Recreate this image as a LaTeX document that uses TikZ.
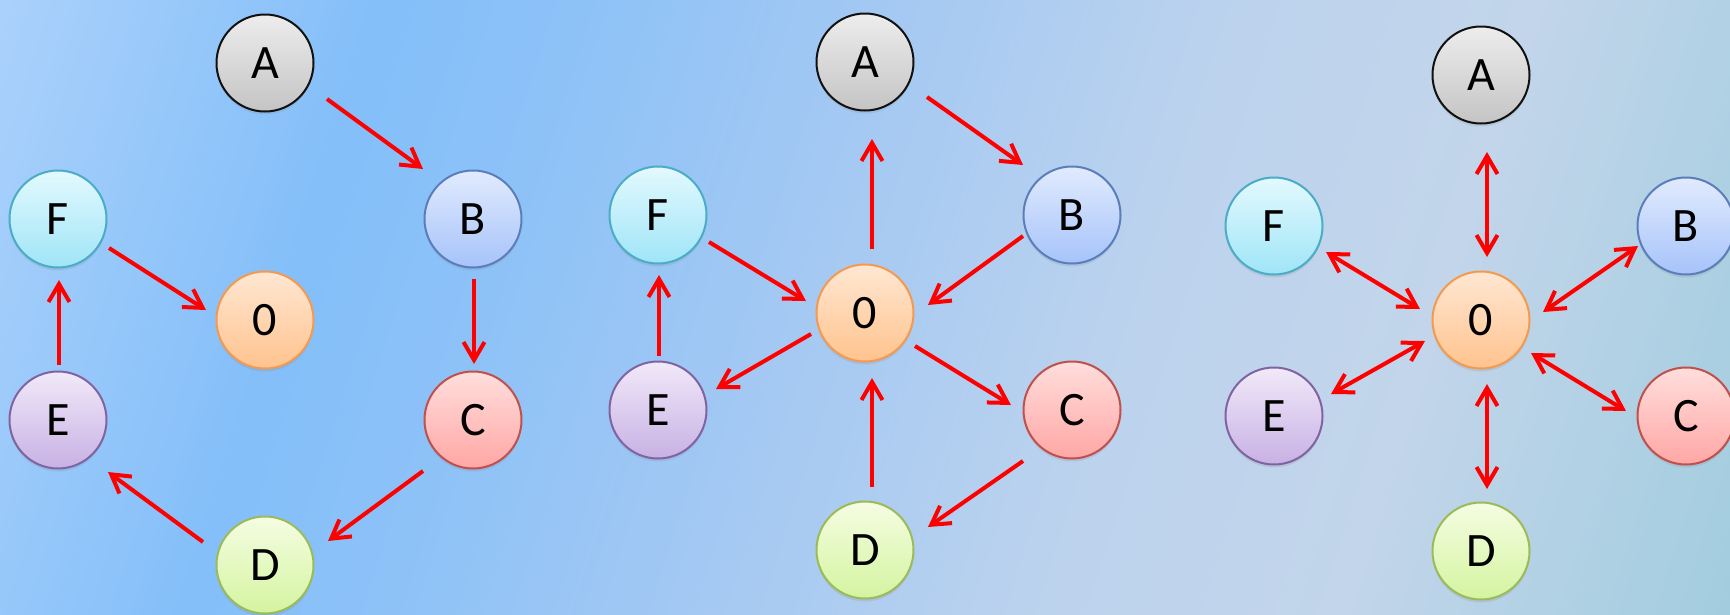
\documentclass[tikz,border=0pt]{standalone}
\usepackage{fontspec}
\setmainfont{Carlito}
\usetikzlibrary{arrows.meta,shadows}
\definecolor{bga}{HTML}{ABD1FB}
\definecolor{bgb}{HTML}{84BFF9}
\definecolor{bgbb}{HTML}{8AC1F8}
\definecolor{bgc}{HTML}{A2C8F3}
\definecolor{bgd}{HTML}{BDD3ED}
\definecolor{bge}{HTML}{C2D5EA}
\definecolor{bgf}{HTML}{A2CDDF}
\pgfdeclarehorizontalshading{bgshade}{100bp}{color(0bp)=(bga); color(18.6bp)=(bga); color(31bp)=(bgb); color(36bp)=(bgbb); color(46.9bp)=(bgc); color(59.4bp)=(bgd); color(68.8bp)=(bge); color(81.4bp)=(bgf); color(100bp)=(bgf)}
\definecolor{aDr}{HTML}{111111}\definecolor{aTp}{HTML}{EDEDED}\definecolor{aBt}{HTML}{C4C4C4}
\definecolor{bDr}{HTML}{5B7EBB}\definecolor{bTp}{HTML}{E1EBFE}\definecolor{bBt}{HTML}{A6C3FA}
\definecolor{cDr}{HTML}{C0504D}\definecolor{cTp}{HTML}{FFDEDC}\definecolor{cBt}{HTML}{FFA7A5}
\definecolor{dDr}{HTML}{9BBB59}\definecolor{dTp}{HTML}{F5FDE2}\definecolor{dBt}{HTML}{D4F4A0}
\definecolor{eDr}{HTML}{8064A2}\definecolor{eTp}{HTML}{F1E9F9}\definecolor{eBt}{HTML}{C8B1E4}
\definecolor{fDr}{HTML}{4BACC6}\definecolor{fTp}{HTML}{E3F9FE}\definecolor{fBt}{HTML}{9FE5F7}
\definecolor{oDr}{HTML}{F39A50}\definecolor{oTp}{HTML}{FFE7D2}\definecolor{oBt}{HTML}{FFC38E}
\begin{document}
\begin{tikzpicture}[x=1pt,y=-1pt,
  nd/.style={circle, minimum size=97pt, inner sep=0pt, outer sep=0pt, line width=2pt,
    font=\fontsize{48}{52}\selectfont,
    drop shadow={shadow xshift=0pt, shadow yshift=-3pt, opacity=0.18}},
  ndA/.style={nd, draw=aDr, top color=aTp, bottom color=aBt},
  ndB/.style={nd, draw=bDr, top color=bTp, bottom color=bBt},
  ndC/.style={nd, draw=cDr, top color=cTp, bottom color=cBt},
  ndD/.style={nd, draw=dDr, top color=dTp, bottom color=dBt},
  ndE/.style={nd, draw=eDr, top color=eTp, bottom color=eBt},
  ndF/.style={nd, draw=fDr, top color=fTp, bottom color=fBt},
  ndO/.style={nd, draw=oDr, top color=oTp, bottom color=oBt},
  tipb/.tip={Straight Barb[length=18pt,width=21pt]},
  arr/.style={draw=red, line width=4pt, -tipb},
  darr/.style={draw=red, line width=4pt, tipb-tipb}
]
\clip (0,0) rectangle (1730,614);
\shade[shading=bgshade, shading angle=-17.7] (0,0) rectangle (1730,614);

% left panel
\node[ndA] (lA) at (265,63) {A};
\node[ndB] (lB) at (473,219) {B};
\node[ndF] (lF) at (58,219) {F};
\node[ndO] (lO) at (265,320) {0};
\node[ndE] (lE) at (58,420) {E};
\node[ndC] (lC) at (473,420) {C};
\node[ndD] (lD) at (265,565) {D};
\draw[arr] ([shift={(62,36)}]lA.center) -- ([shift={(-50,-50)}]lB.center);
\draw[arr] ([shift={(1,60)}]lB.center) -- ([shift={(1,-56)}]lC.center);
\draw[arr] ([shift={(-50,51)}]lC.center) -- ([shift={(63,-24)}]lD.center);
\draw[arr] ([shift={(-62,-23)}]lD.center) -- ([shift={(50,52)}]lE.center);
\draw[arr] ([shift={(1,-55)}]lE.center) -- ([shift={(1,61)}]lF.center);
\draw[arr] ([shift={(51,29)}]lF.center) -- ([shift={(-59,-10)}]lO.center);

% middle panel
\node[ndA] (mA) at (865,62) {A};
\node[ndB] (mB) at (1072,215) {B};
\node[ndF] (mF) at (658,215) {F};
\node[ndO] (mO) at (865,313) {0};
\node[ndE] (mE) at (658,410) {E};
\node[ndC] (mC) at (1072,410) {C};
\node[ndD] (mD) at (865,550) {D};
\draw[arr] ([shift={(62,35)}]mA.center) -- ([shift={(-49,-50)}]mB.center);
\draw[arr] ([shift={(7,-64)}]mO.center) -- ([shift={(7,77)}]mA.center);
\draw[arr] ([shift={(-49,21)}]mB.center) -- ([shift={(63,-8)}]mO.center);
\draw[arr] ([shift={(51,27)}]mF.center) -- ([shift={(-59,-12)}]mO.center);
\draw[arr] ([shift={(-54,21)}]mO.center) -- ([shift={(58,-21)}]mE.center);
\draw[arr] ([shift={(50,33)}]mO.center) -- ([shift={(-61,-5)}]mC.center);
\draw[arr] ([shift={(-49,51)}]mC.center) -- ([shift={(63,-23)}]mD.center);
\draw[arr] ([shift={(7,-63)}]mD.center) -- ([shift={(7,65)}]mO.center);
\draw[arr] ([shift={(1,-54)}]mE.center) -- ([shift={(1,60)}]mF.center);

% right panel
\node[ndA] (rA) at (1481,75) {A};
\node[ndB] (rB) at (1686,226) {B};
\node[ndF] (rF) at (1274,226) {F};
\node[ndO] (rO) at (1481,320) {0};
\node[ndE] (rE) at (1274,416) {E};
\node[ndC] (rC) at (1686,416) {C};
\node[ndD] (rD) at (1481,551) {D};
\draw[darr] ([shift={(6,77)}]rA.center) -- ([shift={(6,-63)}]rO.center);
\draw[darr] ([shift={(52,26)}]rF.center) -- ([shift={(-61,-11)}]rO.center);
\draw[darr] ([shift={(62,-8)}]rO.center) -- ([shift={(-48,20)}]rB.center);
\draw[darr] ([shift={(-56,21)}]rO.center) -- ([shift={(57,-22)}]rE.center);
\draw[darr] ([shift={(50,33)}]rO.center) -- ([shift={(-60,-5)}]rC.center);
\draw[darr] ([shift={(6,64)}]rO.center) -- ([shift={(6,-62)}]rD.center);
\end{tikzpicture}
\end{document}
